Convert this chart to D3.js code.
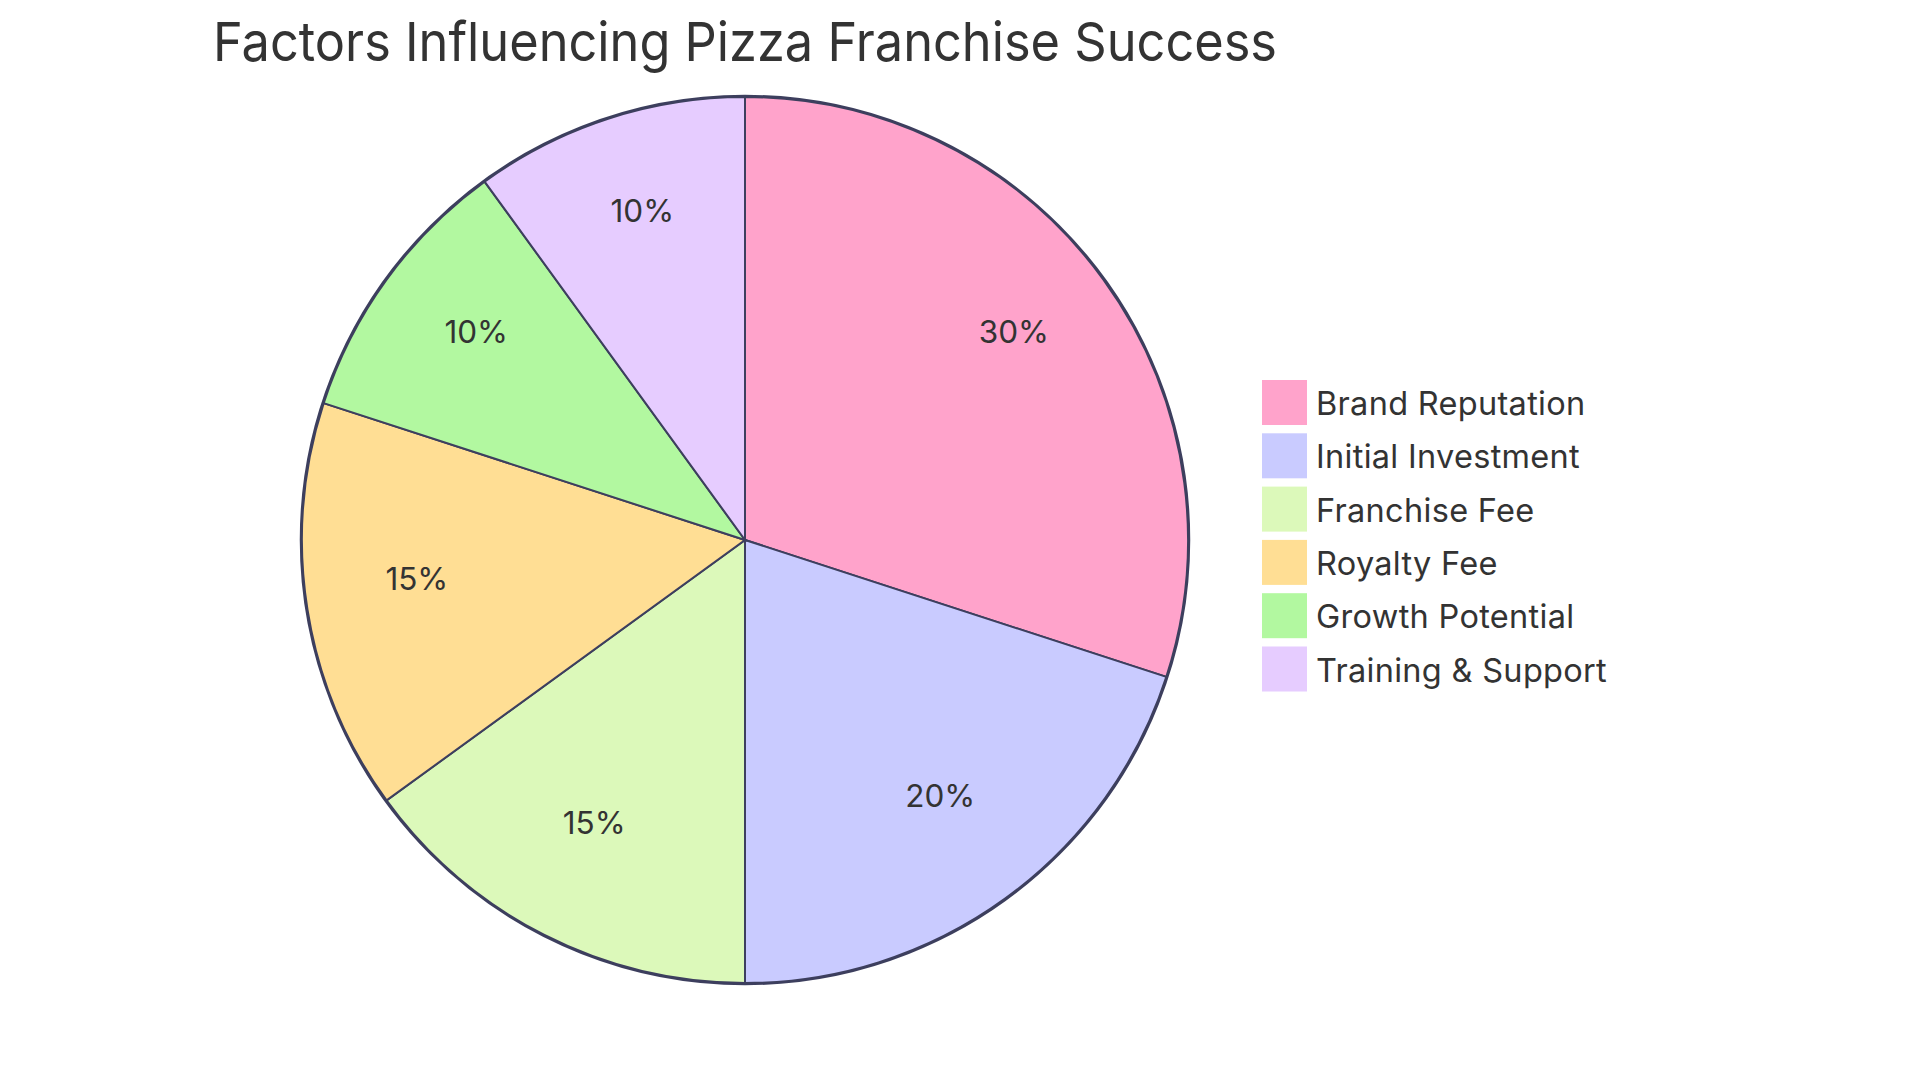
<!DOCTYPE html>
<html><head><meta charset="utf-8">
<script src="https://cdn.jsdelivr.net/npm/d3@7"></script>
<style>html,body{margin:0;padding:0;background:#fff;} svg{display:block;}</style>
</head><body>
<svg id="chart" width="1920" height="1080"></svg>
<script>
const title = "Factors Influencing Pizza Franchise Success";
const categories = ["Brand Reputation","Initial Investment","Franchise Fee","Royalty Fee","Growth Potential","Training & Support"];
const values = [30,20,15,15,10,10];
const colors = ["#FFA3CB","#C9CBFF","#DCF9BA","#FFDE94","#B2F8A0","#E6CCFF"];

const svg = d3.select("#chart");
const cx = 745, cy = 540, R = 443;
const font = "Inter, 'Open Sans', sans-serif";
const textColor = "#333333";
const strokeColor = "#3d3f5e";

const data = categories.map((c,i)=>({label:c, value:values[i], color:colors[i]}));
const pie = d3.pie().value(d=>d.value).sort(null);
const arcs = pie(data);
const arc = d3.arc().innerRadius(0).outerRadius(R);
const labelArc = d3.arc().innerRadius(R*0.75).outerRadius(R*0.75);
const total = d3.sum(values);

const g = svg.append("g").attr("transform",`translate(${cx},${cy})`);
g.append("circle").attr("r",R+1).attr("fill","none").attr("stroke",strokeColor).attr("stroke-width",2.5);
g.selectAll("path.slice").data(arcs).enter().append("path")
  .attr("class","slice").attr("d",arc).attr("fill",d=>d.data.color)
  .attr("stroke",strokeColor).attr("stroke-width",2);

g.selectAll("text.pct").data(arcs).enter().append("text")
  .attr("class","pct")
  .attr("transform",d=>`translate(${labelArc.centroid(d)})`)
  .attr("dy",-2)
  .attr("text-anchor","middle")
  .attr("font-family",font).attr("font-size",31.5).attr("fill",textColor)
  .text(d=>Math.round(d.data.value/total*100)+"%");

svg.append("text").attr("x",cx).attr("y",61).attr("text-anchor","middle")
  .attr("font-family",font).attr("font-size",54).attr("fill",textColor)
  .attr("textLength",1064).attr("lengthAdjust","spacingAndGlyphs")
  .text(title);

const leg = svg.append("g");
const item = leg.selectAll("g").data(data).enter().append("g")
  .attr("transform",(d,i)=>`translate(1262,${380 + i*53.3})`);
item.append("rect").attr("width",45).attr("height",45).attr("fill",d=>d.color);
item.append("text").attr("x",54).attr("y",35)
  .attr("font-family",font).attr("font-size",32.5).attr("fill",textColor)
  .attr("letter-spacing",0.3)
  .text(d=>d.label);
</script>
</body></html>
